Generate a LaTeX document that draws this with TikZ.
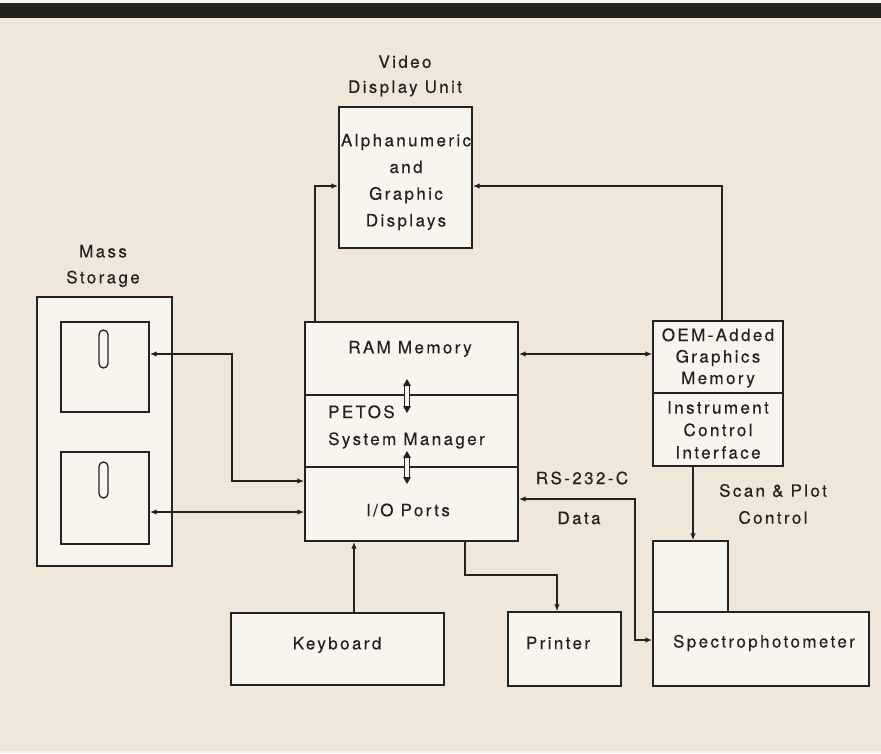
\documentclass[tikz,border=0pt]{standalone}
\usepackage{fontspec}
\newfontfamily\lblfont{TeX Gyre Heros}[LetterSpace=14,FakeBold=0.35]
\usetikzlibrary{arrows.meta}
\definecolor{bg}{RGB}{240,231,218}
\definecolor{boxfill}{RGB}{248,244,238}
\definecolor{ink}{RGB}{36,34,32}
\begin{document}
\begin{tikzpicture}[x=1pt,y=-1pt,
  box/.style={draw=ink, fill=boxfill, line width=1.4pt, inner sep=0pt},
  slot/.style={draw=ink, line width=1.3pt, rounded corners=4.5pt, inner sep=0pt, minimum width=9pt},
  lbl/.style={font=\lblfont\fontsize{17}{#1}\selectfont, text=ink, align=center, inner sep=0pt},
  lbl/.default=26,
  conn/.style={draw=ink, line width=1.4pt},
  tip/.style={conn, -{Latex[length=7pt,width=5.5pt]}},
  dtip/.style={conn, {Latex[length=7pt,width=5.5pt]}-{Latex[length=7pt,width=5.5pt]}}]
\useasboundingbox (0,0) rectangle (881,753);
\fill[bg] (0,0) rectangle (881,753);
\fill[white!55!bg] (0,0) rectangle (881,3);
\fill[white!45!bg] (0,751) rectangle (881,753);
\fill[ink] (0,3) rectangle (881,18);

% boxes
\node[box, minimum width=133pt, minimum height=141pt] (vdu) at (405.5,177.5) {};
\node[box, minimum width=135pt, minimum height=269pt] (stor) at (104.5,431.5) {};
\node[box, minimum width=88pt, minimum height=90pt] (disk1) at (105,367) {};
\node[box, minimum width=88pt, minimum height=92pt] (disk2) at (105,498) {};
\node[slot, minimum height=38pt] (slot1) at (103.5,349) {};
\node[slot, minimum height=36pt] (slot2) at (103.5,480) {};
\node[box, minimum width=213pt, minimum height=73pt] (ram) at (411.5,358.5) {};
\node[box, minimum width=213pt, minimum height=72pt] (petos) at (411.5,431) {};
\node[box, minimum width=213pt, minimum height=74pt] (io) at (411.5,504) {};
\node[box, minimum width=130pt, minimum height=72pt] (oem) at (718,357) {};
\node[box, minimum width=130pt, minimum height=73pt] (ici) at (718,429.5) {};
\node[box, minimum width=75pt, minimum height=71pt] (spt) at (690.5,576.5) {};
\node[box, minimum width=216pt, minimum height=74pt] (spb) at (761,649) {};
\node[box, minimum width=113pt, minimum height=74pt] (prn) at (564.5,649) {};
\node[box, minimum width=213pt, minimum height=72pt] (kbd) at (337.5,649) {};

% labels
\node[lbl=25] (tvideo) at (405,76) {Video\\Display Unit};
\node[lbl=26] (tmass) at (103,266) {Mass\\Storage};
\node[lbl=26.7] (tvdu) at (406,182) {Alphanumeric\\and\\Graphic\\Displays};
\node[lbl] (tram) at (410,349) {RAM Memory};
\node[lbl=27, align=left, anchor=west] (tpetos) at (328,427) {PETOS\\System Manager};
\node[lbl] (tio) at (408,510) {I/O Ports};
\node[lbl=21.5] (toem) at (718,358) {OEM-Added\\Graphics\\Memory};
\node[lbl=22.5] (tici) at (718,430) {Instrument\\Control\\Interface};
\node[lbl=27] (tscan) at (773,504) {Scan \& Plot\\Control};
\node[lbl] (trs) at (582,478) {RS-232-C};
\node[lbl] (tdata) at (579,518) {Data};
\node[lbl] (tprn) at (558,643) {Printer};
\node[lbl] (tkbd) at (337,645) {Keyboard};
\node[lbl] (tspec) at (764,643) {Spectrophotometer};

% connectors
\coordinate (vl) at (315,186);
\draw[tip] (vl |- ram.north) -- (vl) -- (vl -| vdu.west);
\coordinate (vr) at (722,186);
\draw[tip] (vr |- oem.north) -- (vr) -- (vr -| vdu.east);
\coordinate (rm) at (0,354);
\draw[dtip] (rm -| ram.east) -- (rm -| oem.west);
\coordinate (d1) at (232,354);
\coordinate (d1b) at (232,481);
\draw[dtip] (d1 -| disk1.east) -- (d1) -- (d1b) -- (d1b -| io.west);
\coordinate (d2) at (0,512);
\draw[dtip] (d2 -| disk2.east) -- (d2 -| io.west);
\coordinate (k) at (354,0);
\draw[tip] (k |- kbd.north) -- (k |- io.south);
\coordinate (p1) at (465,575);
\coordinate (p2) at (557,575);
\draw[tip] (p1 |- io.south) -- (p1) -- (p2) -- (p2 |- prn.north);
\coordinate (r1) at (635,499);
\coordinate (r2) at (635,640);
\draw[dtip] (r1 -| io.east) -- (r1) -- (r2) -- (r2 -| spb.west);
\coordinate (s) at (693,0);
\draw[tip] (s |- ici.south) -- (s |- spt.north);

% hollow double arrows between sections
\draw[ink, line width=1.1pt, fill=boxfill] (404.5,385) rectangle (409.5,407);
\fill[ink] (407,379) -- (403,386) -- (411,386) -- cycle;
\fill[ink] (407,413) -- (403,406) -- (411,406) -- cycle;
\draw[ink, line width=1.1pt, fill=boxfill] (404.5,457) rectangle (409.5,478);
\fill[ink] (407,451) -- (403,458) -- (411,458) -- cycle;
\fill[ink] (407,484) -- (403,477) -- (411,477) -- cycle;
\end{tikzpicture}
\end{document}
